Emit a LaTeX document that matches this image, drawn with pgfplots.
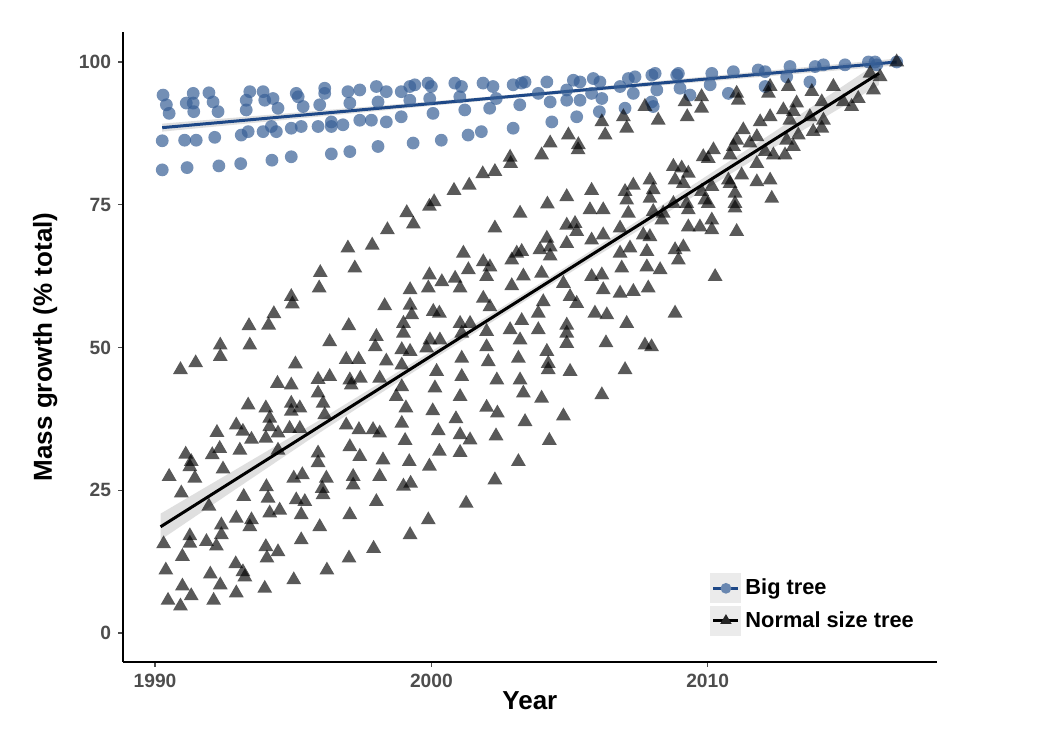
\documentclass[border=0pt]{standalone}
\usepackage{fontspec}
\setmainfont{Liberation Sans}
\usepackage{pgfplots}
\usepackage{pgfplotstable}
\pgfplotsset{compat=1.18}
\definecolor{bigpt}{RGB}{55,95,150}
\definecolor{bigline}{RGB}{30,72,135}
\definecolor{ticktext}{RGB}{77,77,77}

\pgfplotstableread{
x y
1990.29 94.2
1990.41 92.5
1990.51 91.0
1990.26 86.2
1991.07 86.3
1991.13 92.8
1991.38 94.5
1991.40 91.3
1991.38 92.8
1991.49 86.3
1991.95 94.6
1992.10 93.0
1992.28 91.3
1992.16 86.8
1993.12 87.2
1993.37 87.8
1993.30 91.6
1993.30 93.3
1993.43 94.8
1993.91 94.8
1993.97 93.3
1994.27 93.6
1994.45 91.9
1993.91 87.8
1994.21 88.7
1994.39 87.8
1994.93 88.4
1995.11 94.5
1995.18 93.9
1995.36 92.2
1995.29 88.7
1995.96 92.5
1995.90 88.7
1996.14 95.4
1996.14 94.5
1996.38 89.5
1996.38 88.7
1996.80 89.0
1997.05 92.8
1996.98 94.8
1997.41 95.1
1997.41 89.8
1997.83 89.8
1998.01 95.7
1998.07 93.0
1998.37 94.8
1998.37 89.5
1998.91 94.8
1998.91 90.4
1999.22 95.7
1999.40 96.0
1999.22 93.3
1999.88 96.3
2000.00 95.7
1999.94 93.6
2000.06 91.0
2000.85 96.3
2001.09 95.7
2001.21 91.6
2001.03 93.9
2001.87 96.3
2002.23 95.7
2002.11 91.9
2002.35 93.6
2002.96 96.0
2003.26 96.3
2003.20 92.5
1990.26 81.1
1991.16 81.5
1992.31 81.8
1993.10 82.2
1994.23 82.8
1994.93 83.4
1996.38 83.9
1997.05 84.3
1998.07 85.2
1999.34 85.8
2000.36 86.3
2001.33 87.2
2001.81 87.8
2002.96 88.4
2003.39 96.5
2003.87 94.5
2004.18 96.5
2004.30 93.0
2004.90 93.3
2005.14 96.8
2005.38 96.5
2005.38 93.3
2005.86 97.1
2006.10 96.5
2005.80 94.5
2006.17 93.6
2006.83 95.7
2007.13 97.1
2007.37 97.4
2007.31 94.5
2007.98 97.7
2008.16 95.1
2008.88 97.7
2009.00 95.4
2009.36 94.2
2010.15 98.0
2010.93 98.3
2010.75 94.5
2011.83 98.6
2012.08 98.3
2012.98 99.2
2013.89 99.2
2014.19 99.5
2014.97 99.5
2015.82 100.0
2016.06 100.0
2004.36 89.5
2005.26 90.4
2006.08 91.3
2007.01 91.9
2007.97 93.0
2004.90 95.1
2008.10 98.0
2008.94 98.0
2012.08 95.7
2012.86 97.4
2013.70 96.5
2016.12 99.5
2008.03 92.2
2010.09 96.0
2016.84 100.0
}\bigtree

\pgfplotstableread{
x y
1990.92 46.1
1991.47 47.3
1992.36 48.4
1992.36 50.4
1993.43 50.4
1993.40 53.8
1994.11 53.9
1994.30 55.9
1994.93 58.9
1994.97 57.6
1995.94 60.4
1995.98 63.1
1997.23 63.9
1996.98 67.4
1997.86 67.9
1998.41 70.6
1998.31 57.3
1997.01 53.8
1996.32 51.0
1995.08 47.1
1994.43 43.7
1994.93 43.4
1995.90 44.4
1996.32 44.9
1996.92 47.9
1997.37 47.9
1998.01 51.9
1997.97 50.1
1998.37 47.6
1998.13 44.6
1997.43 44.6
1997.05 44.3
1997.10 43.4
1990.51 27.4
1990.95 24.5
1990.31 15.6
1990.39 11.0
1990.47 5.7
1990.92 4.7
1990.99 8.2
1991.31 6.5
1990.99 13.4
1991.26 17.0
1991.26 15.7
1991.11 31.3
1991.31 30.0
1991.44 27.1
1991.26 29.1
1992.46 28.7
1992.24 35.1
1992.34 32.3
1992.07 31.2
1991.95 22.2
1991.86 16.0
1992.22 15.2
1992.40 18.9
1992.40 17.2
1992.00 10.3
1992.36 8.4
1992.12 5.7
1992.94 7.0
1992.92 12.1
1993.18 10.7
1993.25 9.8
1993.97 7.8
1994.01 15.1
1994.05 13.1
1994.45 14.2
1995.02 9.3
1992.94 20.1
1993.43 18.6
1993.49 19.8
1993.21 23.9
1992.94 36.4
1993.18 35.3
1993.07 32.0
1993.37 39.9
1994.01 39.4
1994.15 37.6
1994.15 36.1
1994.45 35.0
1994.01 34.1
1994.45 32.0
1993.49 33.9
1994.03 25.6
1994.15 21.0
1994.51 21.5
1994.09 23.6
1994.93 40.2
1994.93 38.8
1995.24 39.4
1994.87 35.8
1995.24 35.8
1995.90 42.0
1996.08 40.2
1996.14 38.2
1995.90 31.5
1995.90 29.8
1996.20 27.1
1996.05 25.3
1996.08 24.2
1995.02 27.1
1995.33 27.7
1995.11 23.3
1995.42 23.0
1995.29 20.7
1995.96 18.6
1995.29 16.3
1996.22 11.0
1997.05 20.7
1997.02 13.1
1997.91 14.8
1997.05 32.6
1997.41 30.9
1997.17 27.4
1997.17 25.9
1998.01 23.0
1998.13 27.4
1998.25 30.3
1996.92 36.4
1997.38 35.6
1997.89 35.6
1998.13 35.0
1998.73 41.4
1999.11 73.6
1999.35 71.6
1999.93 74.7
2000.10 75.5
2000.82 77.5
2001.37 78.4
2001.86 80.4
2002.30 80.8
2002.85 83.3
2002.87 82.2
2003.99 83.7
2005.31 84.6
2003.21 73.5
2002.30 70.9
2004.20 75.1
2004.90 76.4
2005.80 77.5
2005.74 74.1
2006.22 74.1
2007.07 75.8
2007.31 78.4
2007.01 77.3
2007.91 79.3
2008.03 77.6
2007.91 76.1
2007.13 73.5
2006.83 70.9
2006.22 69.7
2005.80 68.8
2004.90 71.4
2005.20 71.7
2005.26 70.3
2004.90 68.2
2004.18 69.1
2004.30 67.6
2003.93 67.1
2004.30 66.0
2003.09 66.5
2003.27 66.8
2002.91 65.3
2001.88 65.0
2002.12 64.1
2002.00 62.4
2001.16 66.5
2001.34 63.6
2000.86 62.1
2001.04 60.4
2000.38 61.5
1999.93 62.7
1999.89 60.4
1999.23 60.1
1999.23 57.4
1999.29 55.7
1998.99 54.2
1998.99 52.5
1998.93 49.6
1999.23 49.3
1998.93 46.9
1998.93 43.1
2000.07 56.3
2000.29 56.0
1999.95 51.3
2000.31 51.3
1999.83 49.9
2000.19 45.8
2000.13 42.9
2001.04 54.2
2001.40 54.2
2001.10 52.5
2001.10 48.1
2001.10 44.9
2001.04 41.4
2001.88 58.6
2002.12 57.1
2002.00 52.8
2002.00 50.1
2002.06 47.5
2002.37 44.3
2002.91 60.8
2003.33 62.5
2003.99 63.0
2004.05 58.0
2003.87 56.0
2003.27 54.7
2002.85 53.1
2003.21 51.3
2003.87 53.1
2003.15 48.1
2003.21 44.3
2003.33 42.0
2004.18 49.3
2004.23 47.2
2004.23 46.1
2005.02 45.8
2004.90 53.9
2004.90 52.5
2004.90 50.7
2005.26 57.7
2005.02 58.9
2004.78 61.2
2005.92 56.0
2006.35 55.7
2005.80 62.4
2006.17 62.7
2006.22 60.1
2006.83 59.5
2007.31 59.8
2007.85 60.4
2006.89 63.9
2007.80 64.1
2008.28 63.6
2006.83 66.5
2007.19 67.4
2007.80 66.8
2007.91 69.4
2007.67 69.7
2007.07 54.2
2006.32 50.8
2007.73 50.4
2007.01 46.1
1999.08 39.4
2000.05 38.9
2000.89 37.5
1998.93 36.7
2000.25 35.4
2001.04 34.7
2001.40 33.8
1999.05 33.7
2000.29 31.8
2001.04 31.6
1999.20 30.0
1999.93 29.2
1998.99 25.7
1999.25 26.2
2001.26 22.7
1999.89 19.8
1999.23 17.2
2002.00 39.5
2002.39 38.5
2002.34 34.5
2003.99 41.1
2003.39 37.0
2004.78 38.0
2004.27 33.7
2003.15 30.0
2002.30 26.8
2006.17 41.7
2008.21 89.8
2009.26 90.4
2009.18 93.0
2009.78 93.9
2009.78 91.9
2011.11 93.3
2011.05 94.5
2012.20 94.5
2012.26 95.7
2012.92 95.7
2013.77 94.8
2014.13 93.0
2014.55 95.7
2014.91 93.0
2015.21 92.2
2016.00 95.1
2016.24 97.4
2015.88 98.0
2016.84 100.0
2015.45 93.6
2013.22 92.8
2013.10 91.3
2012.98 89.8
2012.74 91.6
2012.26 90.4
2011.90 89.5
2011.29 88.1
2011.05 86.3
2011.78 86.9
2011.53 85.8
2010.93 85.2
2010.21 84.6
2010.02 83.1
2009.84 83.4
2010.81 83.7
2012.08 84.3
2012.38 83.7
2012.80 83.7
2013.10 85.2
2012.86 86.3
2013.28 87.2
2013.82 87.8
2014.13 88.4
2014.19 89.8
2013.70 90.4
2008.76 81.7
2009.06 81.4
2009.30 80.5
2008.82 79.3
2009.12 78.7
2008.03 73.8
2008.34 72.3
2008.76 75.2
2009.24 75.2
2009.30 74.1
2009.78 77.3
2009.90 75.8
2010.02 75.2
2010.15 78.2
2010.75 79.3
2011.23 80.2
2010.81 78.7
2011.78 79.0
2012.26 79.3
2011.78 82.2
2010.99 77.0
2010.99 75.2
2010.99 74.4
2012.32 76.1
2009.30 71.1
2009.72 71.1
2010.15 72.3
2010.15 70.6
2011.05 70.3
2008.82 67.1
2009.12 67.6
2008.94 65.3
2010.27 62.4
2008.39 73.5
2008.82 56.0
2007.97 50.1
2004.30 85.8
2004.96 87.2
2005.32 85.5
2006.17 89.5
2006.29 87.2
2007.07 88.4
2006.95 90.4
2007.73 92.2
}\normaltree

\begin{document}
\begin{tikzpicture}[x=1pt,y=1pt]
\useasboundingbox (0,0) rectangle (523.5,364);
\begin{axis}[
  at={(61.5pt,33.15pt)}, anchor=south west,
  width=406.85pt, height=314.85pt, scale only axis,
  xmin=1988.84, xmax=2018.29, ymin=-5.03, ymax=105.25,
  axis x line*=bottom, axis y line*=left,
  axis line style={line width=0.8pt, black},
  xtick={1990,2000,2010}, ytick={0,25,50,75,100},
  tick align=outside, major tick length=2.5pt,
  tick style={line width=0.6pt, color=ticktext},
  /pgf/number format/assume math mode=true,
  /pgf/number format/1000 sep={},
  ticklabel style={font=\fontsize{9.6}{11}\selectfont\bfseries, text=ticktext},
  xlabel={Year}, ylabel={Mass growth (\% total)},
  label style={font=\fontsize{13}{15}\selectfont\bfseries},
  xlabel style={at={(axis description cs:0.5,-0.0619)}, anchor=center},
  ylabel style={at={(axis description cs:-0.0955,0.5)}, anchor=center},
  legend style={at={(0.7214,0.1409)}, anchor=north west, draw=none, fill=none,
    font=\fontsize{10.9}{12}\selectfont\bfseries, row sep=1.2pt, inner sep=0pt},
  legend cell align=left,
  legend image code/.code={
    \fill[black!8] (0cm,-0.24cm) rectangle (0.5cm,0.24cm);
    \draw[mark repeat=2,mark phase=2,#1] plot coordinates {(0.03cm,0cm) (0.25cm,0cm) (0.47cm,0cm)};
  },
]
\addplot[only marks, mark=*, mark size=3.2pt, forget plot,
  mark options={fill=bigpt, draw=bigpt, line width=0pt, fill opacity=0.7, draw opacity=0}]
  table {\bigtree};
\addplot[only marks, mark=triangle*, mark size=4.3pt, forget plot,
  mark options={fill=black, draw=black, line width=0pt, fill opacity=0.65, draw opacity=0}]
  table {\normaltree};
\addplot[fill=gray!50, draw=none, fill opacity=0.5, forget plot] coordinates {
  (1990.26,89.2) (2003.0,94.3) (2016.84,100.6) (2016.84,99.4) (2003.0,93.7) (1990.26,87.8)} -- cycle;
\addplot[fill=gray!50, draw=none, fill opacity=0.5, forget plot] coordinates {
  (1990.2,20.9) (1993,28.85) (1996,37.41) (2000,49.32) (2004,61.43) (2008,73.84) (2012,86.46) (2016.2,99.98)
  (2016.2,95.98) (2012,83.86) (2008,72.04) (2004,60.03) (2000,47.72) (1996,35.21) (1993,25.45) (1990.2,16.3)} -- cycle;
\addplot[bigline, line width=1.5pt, forget plot] coordinates {(1990.26,88.5) (2016.84,100.0)};
\addplot[black, line width=1.5pt, forget plot] coordinates {(1990.2,18.6) (2016.2,98.0)};
\addlegendimage{bigline, line width=1.3pt, mark=*, mark size=2.7pt, mark options={fill=bigpt!75!white, draw opacity=0}}
\addlegendentry{Big tree}
\addlegendimage{black, line width=1.3pt, mark=triangle*, mark size=3.3pt, mark options={fill=black!85, draw opacity=0}}
\addlegendentry{Normal size tree}
\end{axis}
\end{tikzpicture}
\end{document}
